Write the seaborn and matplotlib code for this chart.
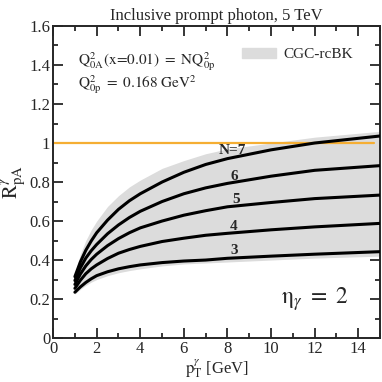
import matplotlib
matplotlib.use("Agg")
import matplotlib.pyplot as plt
import matplotlib.patches as mpatches
from matplotlib.ticker import MultipleLocator
import pandas as pd
import seaborn as sb

# values
pt = [1, 1.25, 1.5, 1.75, 2, 2.5, 3, 3.5, 4, 5, 6, 7, 8, 10, 12, 15]
r_n3 = [0.235, 0.262, 0.285, 0.304, 0.32, 0.34, 0.355, 0.366, 0.375, 0.387, 0.395, 0.40, 0.409, 0.42, 0.43, 0.443]
r_n4 = [0.255, 0.296, 0.33, 0.355, 0.375, 0.408, 0.435, 0.454, 0.47, 0.495, 0.512, 0.527, 0.537, 0.555, 0.57, 0.588]
r_n5 = [0.275, 0.328, 0.37, 0.403, 0.43, 0.474, 0.51, 0.54, 0.565, 0.60, 0.63, 0.653, 0.673, 0.695, 0.715, 0.733]
r_n6 = [0.295, 0.36, 0.41, 0.448, 0.48, 0.535, 0.58, 0.618, 0.65, 0.70, 0.74, 0.77, 0.793, 0.83, 0.86, 0.884]
r_n7 = [0.315, 0.39, 0.45, 0.498, 0.54, 0.605, 0.66, 0.704, 0.74, 0.80, 0.85, 0.89, 0.92, 0.965, 1.0, 1.036]
band_lo = [0.225, 0.25, 0.27, 0.287, 0.30, 0.32, 0.335, 0.346, 0.355, 0.37, 0.38, 0.385, 0.39, 0.40, 0.41, 0.42]
band_hi = [0.33, 0.43, 0.50, 0.555, 0.60, 0.675, 0.73, 0.775, 0.81, 0.87, 0.91, 0.945, 0.97, 1.0, 1.03, 1.06]
curve_labels = ['3', '4', '5', '6', 'N=7']
label_x = [8.3, 8.3, 8.4, 8.3, 8.2]
label_y = [0.451, 0.571, 0.708, 0.83, 0.964]

sb.set_style('ticks')
plt.rcParams['font.family'] = ['Liberation Serif', 'DejaVu Serif']
plt.rcParams['mathtext.fontset'] = 'stix'

df = pd.DataFrame({'pt': pt, '3': r_n3, '4': r_n4, '5': r_n5, '6': r_n6, 'N=7': r_n7})
longDF = df.melt(id_vars='pt', var_name='N', value_name='R')

fig = plt.figure(figsize=(3.82, 3.82), dpi=100)
ax = fig.add_axes([0.139, 0.115, 0.856, 0.817])

ax.fill_between(pt, band_lo, band_hi, color='#dcdcdc', lw=0, zorder=1)
ax.plot([0, 14.7], [1, 1], color='#f5ae33', lw=1.6, zorder=2)
sb.lineplot(data=longDF, x='pt', y='R', units='N', estimator=None, color='black',
            lw=2.2, ax=ax, zorder=3)

for lab, lx, ly in zip(curve_labels, label_x, label_y):
    ax.text(lx, ly, lab, fontsize=11, fontweight='bold', ha='center', va='center', zorder=4)

ax.set_xlim(0, 15)
ax.set_ylim(0, 1.6)
ax.xaxis.set_major_locator(MultipleLocator(2))
ax.xaxis.set_minor_locator(MultipleLocator(1))
ax.yaxis.set_minor_locator(MultipleLocator(0.1))
ax.set_yticks([0, 0.2, 0.4, 0.6, 0.8, 1.0, 1.2, 1.4, 1.6])
ax.set_yticklabels(['0', '0.2', '0.4', '0.6', '0.8', '1', '1.2', '1.4', '1.6'])
ax.tick_params(which='both', direction='in', top=True, right=True, labelsize=12, width=1.3)
ax.tick_params(which='major', length=7, pad=2)
ax.tick_params(which='minor', length=3.5)
for s in ax.spines.values():
    s.set_linewidth(1.4)

ax.set_xlabel(r'$\mathrm{p}^{\gamma}_{\mathrm{T}}$ [GeV]', fontsize=12, labelpad=0)
ax.set_ylabel(r'$\mathrm{R}^{\gamma}_{\mathrm{pA}}$', fontsize=15, labelpad=0)
ax.set_title('Inclusive prompt photon, 5 TeV', fontsize=12, pad=4)

ax.text(0.075, 0.885, r'$\mathrm{Q}^{2}_{\mathrm{0A}}\mathrm{(x\!=\!0.01)\ =\ NQ}^{2}_{\mathrm{0p}}$',
        transform=ax.transAxes, fontsize=11, va='center')
ax.text(0.075, 0.812, r'$\mathrm{Q}^{2}_{\mathrm{0p}}\mathrm{\ =\ 0.168\ GeV}^{2}$',
        transform=ax.transAxes, fontsize=11, va='center')
ax.text(0.80, 0.125, r'$\mathrm{\eta}_{\gamma}\mathrm{\ =\ 2}$', transform=ax.transAxes,
        fontsize=17, ha='center', va='center')

patch = mpatches.Patch(color='#dcdcdc', label='CGC-rcBK')
ax.legend(handles=[patch], loc='upper right', bbox_to_anchor=(0.96, 0.975), frameon=False,
          fontsize=11, handlelength=2.2, handleheight=0.7, handletextpad=0.5)

plt.savefig('out.png', dpi=100)
